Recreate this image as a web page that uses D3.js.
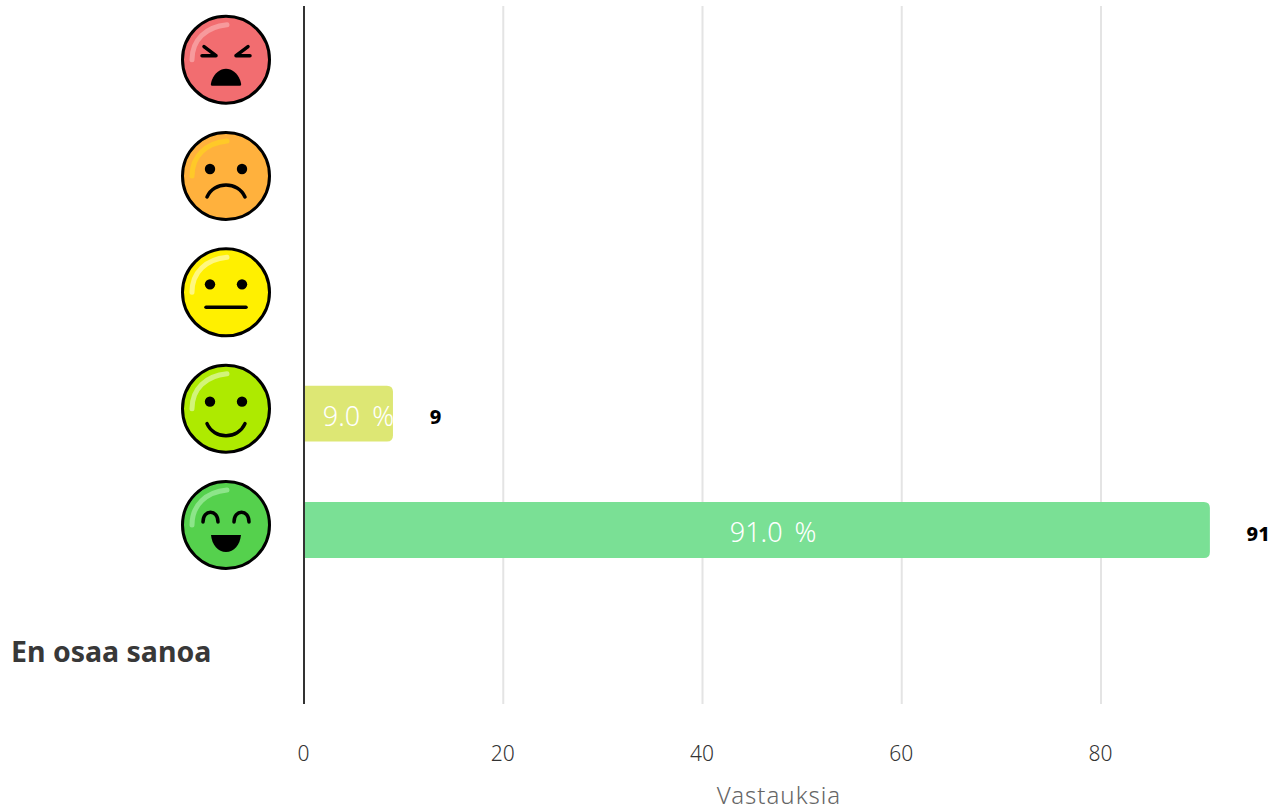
<!DOCTYPE html>
<html>
<head>
<meta charset="utf-8">
<script src="https://cdn.jsdelivr.net/npm/d3@7"></script>
<style>
    html, body { margin: 0; padding: 0; background: #fff; }
    svg { display: block; font-family: "Noto Sans", sans-serif; }
    .x.axis text { font-size: 21px; fill: #333; font-family: "Noto Sans", sans-serif; font-weight: 300; }
    .x.axis .domain { display: none; }
</style>
</head>
<body>
<div id="chart"></div>
<script>
// Chart values
var categories = ["angry", "sad", "neutral", "happy", "veryhappy", "En osaa sanoa"];
var counts = [0, 0, 0, 9, 91, 0];
var percents = ["", "", "", "9.0 %", "91.0 %", ""];
var barColors = ["#f58f8f", "#ffc670", "#fff566", "#dde774", "#7ae095", "#cccccc"];
var xTicks = [0, 20, 40, 60, 80];
var xTitle = "Vastauksia";
var otherLabel = "En osaa sanoa";

// Face fill and highlight per category
var faceFill = { angry: "#f26d70", sad: "#ffb13d", neutral: "#fff000", happy: "#aeea00", veryhappy: "#55d14d" };
var faceShine = { angry: "#f79a9c", sad: "#ffc928", neutral: "#fff780", happy: "#d2f47a", veryhappy: "#8de58a" };

var svg = d3.select("#chart")
    .append("svg")
    .attr("width", 1281)
    .attr("height", 812);

//Scales
var x = d3.scaleLinear()
    .domain([0, 80])
    .range([304, 1101]);

var y = d3.scaleBand()
    .domain(categories)
    .range([6.5, 704.5])
    .paddingInner(0.52)
    .paddingOuter(0.26);

function rowCenter(d) {
    return y(d) + y.bandwidth() / 2;
}

//Grid lines
svg.append("g")
    .selectAll("line")
    .data(xTicks.slice(1))
    .enter()
    .append("line")
    .attr("x1", function (d) { return x(d); })
    .attr("x2", function (d) { return x(d); })
    .attr("y1", 6)
    .attr("y2", 704)
    .attr("stroke", "#e4e4e4")
    .attr("stroke-width", 2);

//X Axis
var xAxisCall = d3.axisBottom(x)
    .tickValues(xTicks)
    .tickSize(0)
    .tickPadding(0);

svg.append("g")
    .attr("class", "x axis")
    .attr("transform", "translate(-1,746)")
    .call(xAxisCall);

svg.append("text")
    .text(xTitle)
    .attr("x", 779)
    .attr("y", 804)
    .attr("text-anchor", "middle")
    .attr("font-size", "24px")
    .attr("letter-spacing", "1px")
    .attr("font-weight", 300)
    .attr("fill", "#666");

//Bars
var barData = categories.map(function (c, i) {
    return { cat: c, count: counts[i], pct: percents[i], color: barColors[i] };
}).filter(function (d) { return d.count > 0; });

var defs = svg.append("defs");
defs.selectAll("clipPath")
    .data(barData)
    .enter()
    .append("clipPath")
    .attr("id", function (d) { return "clip-" + d.cat; })
    .append("rect")
    .attr("x", x(0))
    .attr("y", function (d) { return y(d.cat); })
    .attr("width", function (d) { return x(d.count) - x(0); })
    .attr("height", y.bandwidth());

svg.append("g")
    .selectAll("path")
    .data(barData)
    .enter()
    .append("path")
    .attr("d", function (d) {
        var x0 = x(0), x1 = x(d.count) - 0.7, y0 = y(d.cat), y1 = y0 + y.bandwidth(), r = 6;
        return "M" + x0 + "," + y0 + "H" + (x1 - r) + "Q" + x1 + "," + y0 + " " + x1 + "," + (y0 + r)
            + "V" + (y1 - r) + "Q" + x1 + "," + y1 + " " + (x1 - r) + "," + y1 + "H" + x0 + "Z";
    })
    .attr("fill", function (d) { return d.color; });

//Percent labels inside the bars, cut at the bar end
svg.append("g")
    .selectAll("text")
    .data(barData)
    .enter()
    .append("text")
    .text(function (d) { return d.pct; })
    .attr("clip-path", function (d) { return "url(#clip-" + d.cat + ")"; })
    .attr("x", function (d) { return (x(0) + x(d.count)) / 2 + 9 + d.count * 0.075; })
    .attr("y", function (d) { return rowCenter(d.cat) + 12; })
    .attr("text-anchor", "middle")
    .attr("font-size", "27px")
    .attr("word-spacing", "5px")
    .attr("font-weight", 300)
    .attr("fill", "#fff");

//Count labels next to the bars
svg.append("g")
    .selectAll("text")
    .data(barData)
    .enter()
    .append("text")
    .text(function (d) { return d.count; })
    .attr("x", function (d) { return x(d.count) + 36; })
    .attr("y", function (d) { return rowCenter(d.cat) + 10.5; })
    .attr("font-size", "20px")
    .attr("font-weight", 800)
    .attr("fill", "#000");

//Y axis line on top of the bars
svg.append("line")
    .attr("x1", x(0))
    .attr("x2", x(0))
    .attr("y1", 6)
    .attr("y2", 704)
    .attr("stroke", "#333")
    .attr("stroke-width", 2);

//Text label for the last row
svg.append("text")
    .text(otherLabel)
    .attr("x", 11)
    .attr("y", 662)
    .attr("font-size", "28.5px")
    .attr("font-weight", 700)
    .attr("fill", "#383838");

//Faces in place of the y tick labels
categories.slice(0, 5).forEach(function (c) {
    var g = svg.append("g")
        .attr("transform", "translate(226," + (rowCenter(c) - 5) + ")");

    g.append("circle")
        .attr("r", 43.5)
        .attr("fill", faceFill[c])
        .attr("stroke", "#000")
        .attr("stroke-width", 3);

    // shine at the upper left
    g.append("path")
        .attr("d", "M-34,0C-34,-20 -20,-33 1,-35")
        .attr("fill", "none")
        .attr("stroke", faceShine[c])
        .attr("stroke-width", 5)
        .attr("stroke-linecap", "round");

    drawFace(g, c);
});

function drawFace(g, mood) {
    function stroke(d, w) {
        g.append("path")
            .attr("d", d)
            .attr("fill", "none")
            .attr("stroke", "#000")
            .attr("stroke-width", w)
            .attr("stroke-linecap", "round")
            .attr("stroke-linejoin", "round");
    }
    function fill(d) {
        g.append("path").attr("d", d).attr("fill", "#000");
    }
    function eyes(ey) {
        [-16, 16].forEach(function (ex) {
            g.append("circle").attr("cx", ex).attr("cy", ey).attr("r", 5.2).attr("fill", "#000");
        });
    }

    if (mood === "angry") {
        stroke("M-24,-4H-10L-22,-13", 3.5);
        stroke("M24,-4H10L22,-13", 3.5);
        fill("M-14,26C-16,26 -15,23 -14,20C-11,13 -6,9 0,9C6,9 11,13 14,20C15,23 16,26 14,26Z");
    } else if (mood === "sad") {
        eyes(-7);
        stroke("M-19,21C-12,5 12,5 19,21", 3.5);
    } else if (mood === "neutral") {
        eyes(-8);
        stroke("M-20,15H20", 3.5);
    } else if (mood === "happy") {
        eyes(-7);
        stroke("M-19,15C-12,31 12,31 19,15", 3.5);
    } else {
        stroke("M-23,-3C-23,-16 -8,-16 -8,-3", 3.5);
        stroke("M8,-3C8,-16 23,-16 23,-3", 3.5);
        fill("M-15,10H15C14,20 8,27 0,27C-8,27 -14,20 -15,10Z");
    }
}
</script>
</body>
</html>
